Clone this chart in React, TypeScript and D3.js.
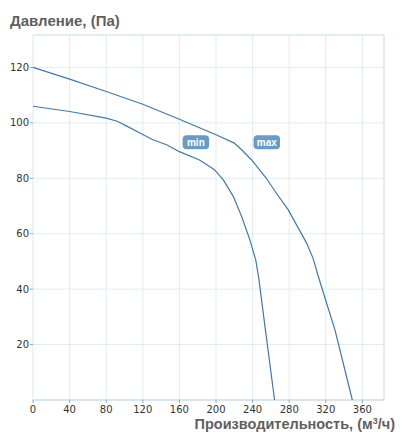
import React from 'react';
import * as d3 from 'd3';

// flow, m³/h  vs pressure, Pa
const maxFlow = [0, 40, 80, 120, 160, 200, 220, 228, 239, 255, 266, 279, 288, 299, 306, 313, 330, 349];
const maxPressure = [120, 115.8, 111.3, 106.7, 101.3, 95.7, 92.7, 90.3, 86.6, 80, 74.6, 68.6, 63.2, 56.6, 51.2, 43.3, 25.3, 0];

const minFlow = [0, 40, 80, 92, 102, 120, 131, 146, 160, 182, 198, 208, 219, 228, 237, 243.5, 247, 254, 264];
const minPressure = [106, 104.1, 101.7, 100.6, 98.9, 95.8, 93.9, 92.1, 89.6, 86.6, 83.2, 79.4, 73.4, 66.2, 57.8, 50.5, 43.3, 25.3, 0];

const xTicks = [0, 40, 80, 120, 160, 200, 240, 280, 320, 360];
const yTicks = [20, 40, 60, 80, 100, 120];

const curveLabels = [
  { text: 'min', flow: 178, pressure: 93 },
  { text: 'max', flow: 255.5, pressure: 93 },
];

const width = 408;
const height = 436;
const margin = { top: 35, right: 24, bottom: 36, left: 33 };

const App: React.FC = () => {
  const x = d3.scaleLinear()
    .domain([0, 383.6])
    .range([margin.left, width - margin.right]);

  const y = d3.scaleLinear()
    .domain([0, 131.7])
    .range([height - margin.bottom, margin.top]);

  const line = d3.line<[number, number]>()
    .x(d => x(d[0]))
    .y(d => y(d[1]));

  const maxData = maxFlow.map((q, i) => [q, maxPressure[i]] as [number, number]);
  const minData = minFlow.map((q, i) => [q, minPressure[i]] as [number, number]);

  const [x0, x1] = x.range();
  const [y0, y1] = y.range();

  return (
    <div style={{ position: 'absolute', left: 0, top: 0 }}>
      <svg width={width} height={height} style={{ display: 'block', background: '#fff' }}>
        {/* Grid */}
        {xTicks.filter(t => t > 0).map(t => (
          <line key={'gx' + t} x1={x(t)} x2={x(t)} y1={y1} y2={y0} stroke="#e1ecf1" strokeWidth={1} />
        ))}
        {yTicks.map(t => (
          <line key={'gy' + t} x1={x0} x2={x1} y1={y(t)} y2={y(t)} stroke="#e1ecf1" strokeWidth={1} />
        ))}
        {/* Plot border */}
        <line x1={x0} x2={x1} y1={y1} y2={y1} stroke="#c6dce4" />
        <line x1={x1} x2={x1} y1={y1} y2={y0} stroke="#c6dce4" />
        <line x1={x0} x2={x0} y1={y1} y2={y0} stroke="#dbe7ee" />
        <line x1={x0} x2={x1} y1={y0} y2={y0} stroke="#b7cad8" />

        {/* Y axis ticks */}
        {yTicks.map(t => (
          <g key={'ty' + t}>
            <line x1={x0 - 3} x2={x0} y1={y(t)} y2={y(t)} stroke="#8fa9bd" />
            <text x={x0 - 4} y={y(t)} dy="0.35em" textAnchor="end"
              fontFamily="DejaVu Sans, Verdana, sans-serif" fontSize={10} fill="#333">{t}</text>
          </g>
        ))}
        {/* X axis ticks */}
        {xTicks.map(t => (
          <g key={'tx' + t}>
            <line x1={x(t)} x2={x(t)} y1={y0} y2={y0 + 3} stroke="#8fa9bd" />
            <text x={x(t)} y={y0 + 12.5} textAnchor="middle"
              fontFamily="DejaVu Sans, Verdana, sans-serif" fontSize={10} fill="#333">{t}</text>
          </g>
        ))}

        {/* Curves */}
        <path d={line(maxData) || ''} fill="none" stroke="#4378a7" strokeWidth={1.2} />
        <path d={line(minData) || ''} fill="none" stroke="#4378a7" strokeWidth={1.2} />

        {/* Curve labels */}
        {curveLabels.map(l => {
          const w = l.text.length * 6.5 + 7;
          return (
            <g key={l.text} transform={`translate(${x(l.flow)},${y(l.pressure)})`}>
              <rect x={-w / 2} y={-7} width={w} height={14} rx={4} fill="#6b9ac3" />
              <text x={0} y={0} dy="0.36em" textAnchor="middle" fill="#fff"
                fontFamily="Liberation Sans, Arial, sans-serif" fontSize={10} fontWeight="bold">{l.text}</text>
            </g>
          );
        })}

        {/* Titles */}
        <text x={10} y={26} fontFamily="Liberation Sans, Arial, sans-serif" fontSize={15}
          fontWeight="bold" fill="#5f5f5f">Давление, (Па)</text>
        <text x={395} y={428.5} textAnchor="end" fontFamily="Liberation Sans, Arial, sans-serif" fontSize={14.5}
          fontWeight="bold" fill="#5f5f5f">Производительность, (м<tspan dy={-5} fontSize={9}>3</tspan><tspan dy={5}>/ч)</tspan></text>
      </svg>
    </div>
  );
};

export default App;
